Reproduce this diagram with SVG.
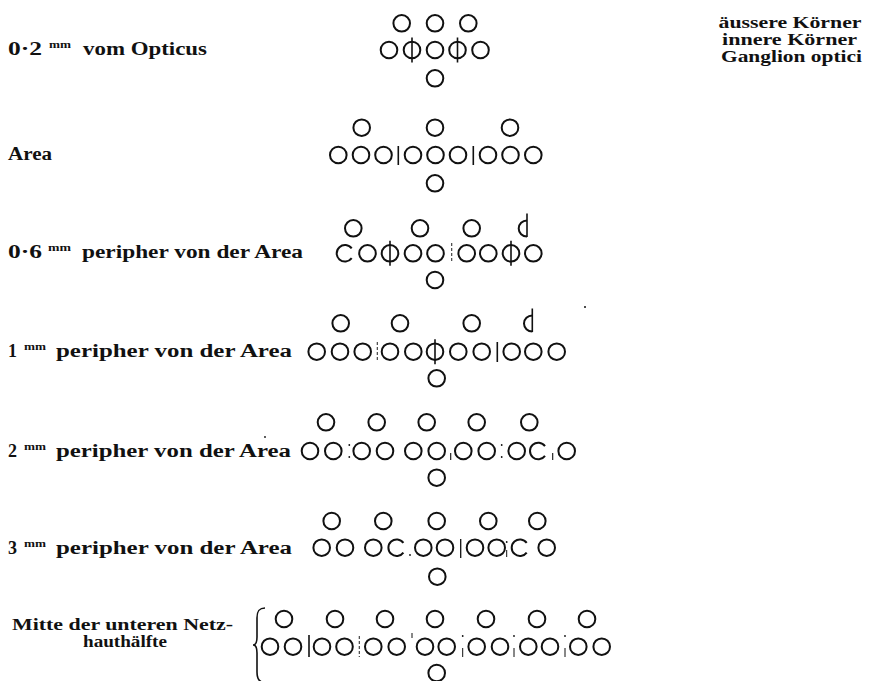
<svg xmlns="http://www.w3.org/2000/svg" xmlns:xlink="http://www.w3.org/1999/xlink" width="869" height="681" viewBox="0 0 869 681">
<style>
.c{fill:none;stroke:#111;stroke-width:2}
.b{stroke:#111;stroke-width:1.6;fill:none}
.f{stroke:#333;stroke-width:1.1;stroke-dasharray:3 2;fill:none}
.t{font-family:"Liberation Serif",serif;font-weight:bold;font-size:18px;fill:#111}
.l{font-size:16px}
.s{font-family:"Liberation Serif",serif;font-weight:bold;font-size:10px;fill:#111}
.d{fill:#111}
</style>
<defs>
<circle id="o" r="8.3" class="c"/>
<path id="cc" d="M6.7,-4.9 A8.3,8.3 0 1 0 6.7,4.9" class="c"/>
<g id="phi"><circle r="8.3" class="c"/><line x1="0" y1="-12.5" x2="0" y2="12.5" class="b"/></g>
<g id="dd"><path d="M0,-8 A8.3,8 0 0 0 0,8" class="c"/><line x1="0" y1="-15" x2="0" y2="8.5" class="b"/></g>
</defs>
<rect width="869" height="681" fill="#fff"/>

<g id="legend">
<text class="t l" x="790" y="28" text-anchor="middle" textLength="143" lengthAdjust="spacingAndGlyphs">äussere Körner</text>
<text class="t l" x="789.5" y="45" text-anchor="middle" textLength="135" lengthAdjust="spacingAndGlyphs">innere Körner</text>
<text class="t l" x="791.5" y="62" text-anchor="middle" textLength="141" lengthAdjust="spacingAndGlyphs">Ganglion optici</text>
</g>

<g id="row1">
<text class="t" x="8" y="55" textLength="34" lengthAdjust="spacingAndGlyphs">0·2</text>
<text class="s" x="49" y="48" textLength="22" lengthAdjust="spacingAndGlyphs">mm</text>
<text class="t" x="83" y="55" textLength="124" lengthAdjust="spacingAndGlyphs">vom Opticus</text>
<use href="#o" x="401.7" y="23.3"/><use href="#o" x="435" y="23.3"/><use href="#o" x="468.3" y="23.3"/>
<use href="#o" x="389" y="50"/><use href="#phi" x="412" y="50"/><use href="#o" x="435" y="50"/><use href="#phi" x="457.5" y="50"/><use href="#o" x="480.5" y="50"/>
<use href="#o" x="435" y="78.3"/>
</g>

<g id="row2">
<text class="t" x="8" y="160" textLength="44" lengthAdjust="spacingAndGlyphs">Area</text>
<use href="#o" x="361.7" y="127.7"/><use href="#o" x="435" y="127.7"/><use href="#o" x="510" y="127.7"/>
<use href="#o" x="338.3" y="155"/><use href="#o" x="361" y="155"/><use href="#o" x="383.5" y="155"/>
<line x1="398.3" y1="146" x2="398.3" y2="165" class="b"/>
<use href="#o" x="413" y="155"/><use href="#o" x="435.5" y="155"/><use href="#o" x="458" y="155"/>
<line x1="473.3" y1="146" x2="473.3" y2="165" class="b"/>
<use href="#o" x="488" y="155"/><use href="#o" x="510.5" y="155"/><use href="#o" x="533.3" y="155"/>
<use href="#o" x="435" y="183.3"/>
</g>

<g id="row3">
<text class="t" x="8" y="258" textLength="34" lengthAdjust="spacingAndGlyphs">0·6</text>
<text class="s" x="48" y="251" textLength="23" lengthAdjust="spacingAndGlyphs">mm</text>
<text class="t" x="82" y="258" textLength="221" lengthAdjust="spacingAndGlyphs">peripher von der Area</text>
<use href="#o" x="353.3" y="228.3"/><use href="#o" x="420" y="228.3"/><use href="#o" x="471.7" y="228.3"/><use href="#dd" x="527" y="228.5"/>
<use href="#cc" x="345" y="253.3"/><use href="#o" x="367.5" y="253.3"/><use href="#phi" x="390" y="253.3"/><use href="#o" x="413" y="253.3"/><use href="#o" x="435.5" y="253.3"/>
<line x1="451.7" y1="243" x2="451.7" y2="261" class="f"/>
<use href="#o" x="466.7" y="253.3"/><use href="#o" x="488.3" y="253.3"/><use href="#phi" x="511" y="253.3"/><use href="#o" x="533.3" y="253.3"/>
<use href="#o" x="435" y="280"/>
</g>

<g id="row4">
<text class="t" x="8" y="357" textLength="9" lengthAdjust="spacingAndGlyphs">1</text>
<text class="s" x="24" y="350" textLength="22" lengthAdjust="spacingAndGlyphs">mm</text>
<text class="t" x="56" y="357" textLength="236" lengthAdjust="spacingAndGlyphs">peripher von der Area</text>
<use href="#o" x="340.7" y="323.3"/><use href="#o" x="400" y="323.3"/><use href="#o" x="471.7" y="323.3"/><use href="#dd" x="532.3" y="323.5"/>
<use href="#o" x="316.7" y="351.7"/><use href="#o" x="340" y="351.7"/><use href="#o" x="362.7" y="351.7"/>
<line x1="377.3" y1="342" x2="377.3" y2="361" class="f"/>
<use href="#o" x="390" y="351.7"/><use href="#o" x="413.3" y="351.7"/><use href="#phi" x="435" y="351.7"/><use href="#o" x="458.3" y="351.7"/><use href="#o" x="481.7" y="351.7"/>
<line x1="497.3" y1="342" x2="497.3" y2="362" class="b"/>
<use href="#o" x="511.7" y="351.7"/><use href="#o" x="533.3" y="351.7"/><use href="#o" x="556.7" y="351.7"/>
<use href="#o" x="436.7" y="378.3"/>
<circle cx="585" cy="307" r="1" class="d"/>
</g>

<g id="row5">
<text class="t" x="8" y="457" textLength="9" lengthAdjust="spacingAndGlyphs">2</text>
<text class="s" x="24" y="450" textLength="22" lengthAdjust="spacingAndGlyphs">mm</text>
<text class="t" x="56" y="457" textLength="235" lengthAdjust="spacingAndGlyphs">peripher von der Area</text>
<circle cx="265" cy="437" r="0.9" class="d"/>
<use href="#o" x="326" y="422.3"/><use href="#o" x="376.7" y="422.3"/><use href="#o" x="426.7" y="422.3"/><use href="#o" x="476.7" y="422.3"/><use href="#o" x="529.3" y="422.3"/>
<use href="#o" x="310" y="451"/><use href="#o" x="333.3" y="451"/>
<circle cx="349.3" cy="445" r="0.9" class="d"/><circle cx="349.3" cy="457" r="0.9" class="d"/>
<use href="#o" x="361.7" y="451"/><use href="#o" x="385" y="451"/>
<use href="#o" x="413.3" y="451"/><use href="#o" x="436.7" y="451"/>
<line x1="450.7" y1="453" x2="450.7" y2="460" class="b" style="stroke-width:1.1"/>
<use href="#o" x="463.3" y="451"/><use href="#o" x="486.7" y="451"/>
<circle cx="501.7" cy="445" r="0.9" class="d"/><circle cx="501.7" cy="457" r="0.9" class="d"/>
<use href="#o" x="516.7" y="451"/><use href="#cc" x="538.3" y="451"/>
<line x1="552.7" y1="453" x2="552.7" y2="460" class="b" style="stroke-width:1.1"/>
<use href="#o" x="566.7" y="451"/>
<use href="#o" x="436.7" y="477.7"/>
</g>

<g id="row6">
<text class="t" x="8" y="554" textLength="9" lengthAdjust="spacingAndGlyphs">3</text>
<text class="s" x="24" y="547" textLength="22" lengthAdjust="spacingAndGlyphs">mm</text>
<text class="t" x="56" y="554" textLength="236" lengthAdjust="spacingAndGlyphs">peripher von der Area</text>
<use href="#o" x="331.7" y="521"/><use href="#o" x="383.3" y="521"/><use href="#o" x="436.7" y="521"/><use href="#o" x="488.3" y="521"/><use href="#o" x="537.3" y="521"/>
<use href="#o" x="321.7" y="547.7"/><use href="#o" x="345" y="547.7"/>
<use href="#o" x="373.3" y="547.7"/><use href="#cc" x="396.7" y="547.7"/>
<circle cx="410" cy="555" r="0.9" class="d"/>
<use href="#o" x="423.3" y="547.7"/><use href="#o" x="445" y="547.7"/>
<line x1="460.7" y1="539" x2="460.7" y2="558" class="b" style="stroke-width:1.3"/>
<use href="#o" x="475" y="547.7"/><use href="#o" x="496.7" y="547.7"/>
<circle cx="506.7" cy="542" r="0.9" class="d"/><line x1="506.7" y1="550" x2="506.7" y2="557" class="b" style="stroke-width:1"/>
<use href="#cc" x="520" y="547.7"/><use href="#o" x="546.7" y="547.7"/>
<use href="#o" x="437.3" y="576.7"/>
</g>

<g id="row7">
<text class="t l" x="12" y="630" textLength="221" lengthAdjust="spacingAndGlyphs">Mitte der unteren Netz-</text>
<text class="t l" x="83" y="647" textLength="84" lengthAdjust="spacingAndGlyphs">hauthälfte</text>
<path d="M265,608 C259,608 257,611 257,618 L257,637 C257,642 256,645 253,645 C256,645 257,648 257,653 L257,672 C257,678 258,681 262,682" class="b"/>
<use href="#o" x="284" y="619"/><use href="#o" x="335" y="619"/><use href="#o" x="385" y="619"/><use href="#o" x="435" y="619"/><use href="#o" x="486" y="619"/><use href="#o" x="537" y="619"/><use href="#o" x="587" y="619"/>
<use href="#o" x="270" y="646.7"/><use href="#o" x="293" y="646.7"/>
<line x1="309" y1="635" x2="309" y2="657" class="b"/>
<use href="#o" x="322" y="646.7"/><use href="#o" x="344.5" y="646.7"/>
<line x1="359.3" y1="636" x2="359.3" y2="657" class="f"/>
<use href="#o" x="373.3" y="646.7"/><use href="#o" x="396.7" y="646.7"/>
<line x1="412" y1="633" x2="412" y2="638" class="b" style="stroke-width:1"/>
<use href="#o" x="425" y="646.7"/><use href="#o" x="446.7" y="646.7"/>
<circle cx="462.7" cy="636" r="0.9" class="d"/><line x1="462.7" y1="648" x2="462.7" y2="657" class="b" style="stroke-width:1"/>
<use href="#o" x="476.7" y="646.7"/><use href="#o" x="500" y="646.7"/>
<circle cx="514" cy="636" r="0.9" class="d"/><line x1="514" y1="648" x2="514" y2="657" class="b" style="stroke-width:1"/>
<use href="#o" x="528.3" y="646.7"/><use href="#o" x="550" y="646.7"/>
<circle cx="565" cy="636" r="0.9" class="d"/><line x1="565" y1="648" x2="565" y2="657" class="b" style="stroke-width:1"/>
<use href="#o" x="578.3" y="646.7"/><use href="#o" x="601.7" y="646.7"/>
<use href="#o" x="436.7" y="673"/>
</g>
</svg>
